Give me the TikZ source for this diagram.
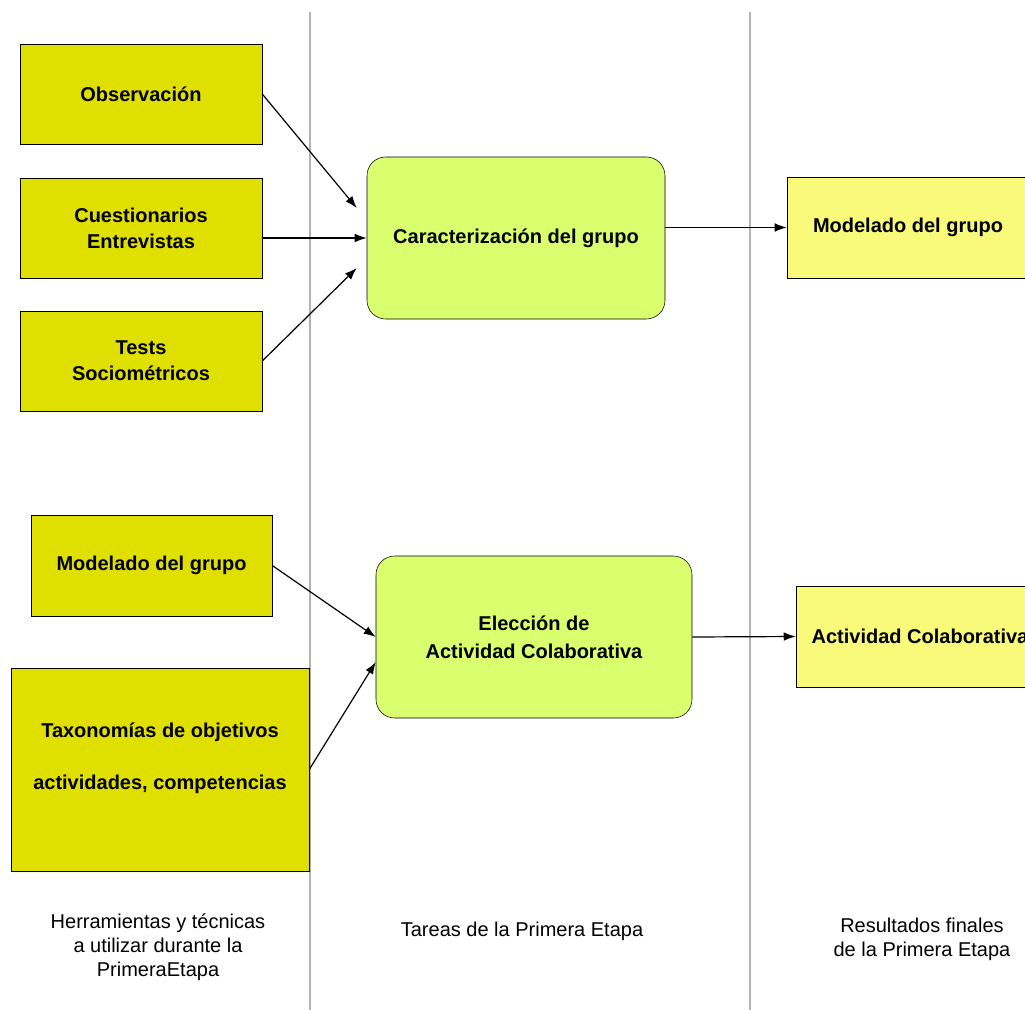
\documentclass[tikz,border=0pt]{standalone}
\usepackage{fontspec}
\setmainfont{Liberation Sans}
\usetikzlibrary{arrows.meta}
\definecolor{toololive}{RGB}{224,224,0}
\definecolor{taskgreen}{RGB}{218,255,110}
\definecolor{resultyellow}{RGB}{250,250,122}
\begin{document}
\begin{tikzpicture}[x=0.75pt,y=-0.75pt,
  toolbox/.style={draw,rectangle,fill=toololive,font=\fontsize{15}{19.5}\selectfont\bfseries,align=center,inner sep=0pt},
  taskbox/.style={draw,rectangle,rounded corners=14pt,fill=taskgreen,font=\fontsize{15}{21}\selectfont\bfseries,align=center,inner sep=0pt},
  resultbox/.style={draw,rectangle,fill=resultyellow,font=\fontsize{15}{19.5}\selectfont\bfseries,align=center,inner sep=0pt},
  caption/.style={font=\fontsize{15}{18}\selectfont,align=center},
  arr/.style={-{Latex[length=9pt,width=6.5pt]},line width=0.9pt},
  lane/.style={draw=gray!60,line width=0.8pt}]
  \useasboundingbox (0,0) rectangle (1025,1010);
  \clip (0,0) rectangle (1025,1010);
  % columns
  \coordinate (lanea top) at (310,12);
  \coordinate (lanea bot) at (310,1010);
  \coordinate (laneb top) at (750,12);
  \coordinate (laneb bot) at (750,1010);
  \draw[lane] (lanea top) -- (lanea bot);
  \draw[lane] (laneb top) -- (laneb bot);
  % first stage: group
  \node[toolbox,minimum width=242*0.75pt,minimum height=100*0.75pt] (obs) at (141,94) {Observación};
  \node[toolbox,minimum width=242*0.75pt,minimum height=100*0.75pt] (cues) at (141,228) {Cuestionarios\\Entrevistas};
  \node[toolbox,minimum width=242*0.75pt,minimum height=100*0.75pt] (tests) at (141,361) {Tests\\Sociométricos};
  \node[taskbox,minimum width=298*0.75pt,minimum height=162*0.75pt] (carac) at (516,238) {Caracterización del grupo};
  \node[resultbox,minimum width=242*0.75pt,minimum height=101*0.75pt] (modelo) at (908,227.5) {Modelado del grupo};
  % first stage: activity
  \node[toolbox,minimum width=241*0.75pt,minimum height=101*0.75pt] (modin) at (151.5,565.5) {Modelado del grupo};
  \node[toolbox,minimum width=298*0.75pt,minimum height=203*0.75pt] (taxo) at (160,769.5)
    {\raisebox{0pt}[\height][\dimexpr\depth+17pt\relax]{\begin{tabular}{@{}c@{}}Taxonomías de objetivos\\[20pt]actividades, competencias\end{tabular}}};
  \node[taskbox,minimum width=316*0.75pt,minimum height=162*0.75pt] (elec) at (534,637) {Elección de\\Actividad Colaborativa};
  \node[resultbox,minimum width=248*0.75pt,minimum height=101*0.75pt] (activ) at (920,636.5) {Actividad Colaborativa};
  % captions
  \node[caption] (capa) at (158,947) {Herramientas y técnicas\\a utilizar durante la\\PrimeraEtapa};
  \node[caption] (capb) at (522,931) {Tareas de la Primera Etapa};
  \node[caption] (capc) at (922,939) {Resultados finales\\de la Primera Etapa};
  % arrows
  \draw[arr] (obs.east) -- ([shift={(-10,-30)}]carac.west);
  \draw[arr] (cues.east |- carac.west) -- (carac.west);
  \draw[arr] (tests.east) -- ([shift={(-10,30)}]carac.west);
  \draw[arr] (carac.east |- modelo.west) -- (modelo.west);
  \draw[arr] (modin.east) -- (elec.west);
  \draw[arr] (taxo.east) -- ([yshift=-25*0.75pt]elec.west);
  \draw[arr] (elec.east) -- (activ.west);
\end{tikzpicture}
\end{document}
